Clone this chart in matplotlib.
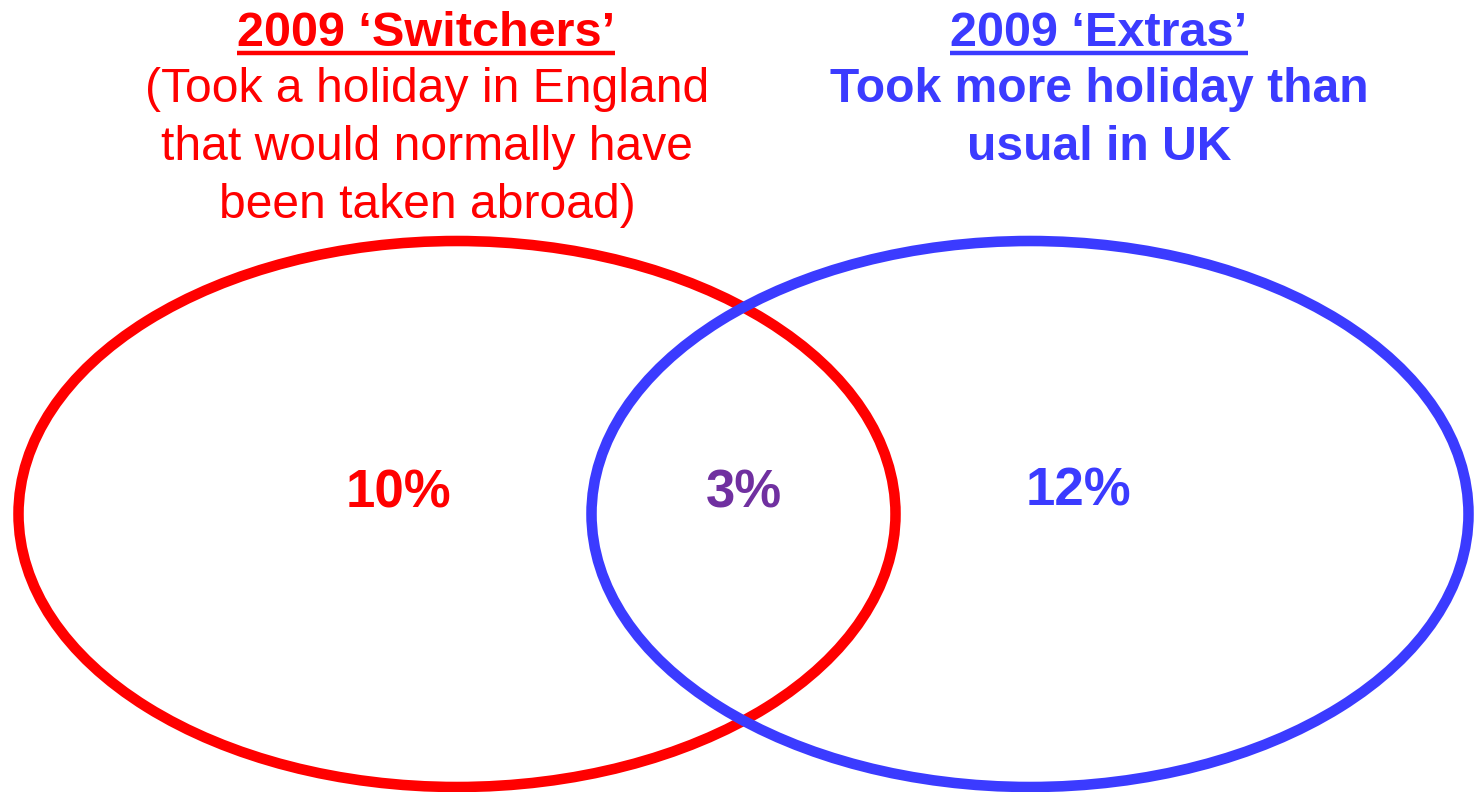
import matplotlib
matplotlib.use("Agg")
import matplotlib.pyplot as plt
from matplotlib.patches import Ellipse

# ---- data ----
set_titles = ["2009 \u2018Switchers\u2019", "2009 \u2018Extras\u2019"]
set_descriptions = [
    "(Took a holiday in England\nthat would normally have\nbeen taken abroad)",
    "Took more holiday than\nusual in UK",
]
only_values = ["10%", "12%"]
overlap_value = "3%"

# ---- style ----
RED = "#FF0000"
BLUE = "#3B3BFF"
PURPLE = "#7030A0"
FONT = "Liberation Sans"

W, H = 1474, 792
fig = plt.figure(figsize=(W / 100, H / 100), dpi=100)
ax = fig.add_axes([0, 0, 1, 1])
ax.set_xlim(0, W)
ax.set_ylim(H, 0)
ax.axis("off")

# ellipses
ell_centers = [(457, 514), (1030, 514)]
ell_w, ell_h = 877, 546
colors = [RED, BLUE]
for (cx, cy), c in zip(ell_centers, colors):
    ax.add_patch(Ellipse((cx, cy), ell_w, ell_h, fill=False, edgecolor=c, lw=7.6))

# value labels
ax.text(398, 494, only_values[0], color=RED, fontsize=38, fontweight="bold",
        ha="center", va="center", family=FONT)
ax.text(744, 494, overlap_value, color=PURPLE, fontsize=38, fontweight="bold",
        ha="center", va="center", family=FONT)
ax.text(1078, 491, only_values[1], color=BLUE, fontsize=38, fontweight="bold",
        ha="center", va="center", family=FONT)

# titles with underline
title_x = [426, 1099]
title_texts = []
for tx, t, c in zip(title_x, set_titles, colors):
    tt = ax.text(tx, 46, t, color=c, fontsize=35, fontweight="bold",
                 ha="center", va="baseline", family=FONT)
    title_texts.append((tt, c))

# descriptions, one line at a time
desc_x = [427, 1099]
desc_weight = ["normal", "bold"]
line_step = 58
for dx, d, c, wgt in zip(desc_x, set_descriptions, colors, desc_weight):
    for i, line in enumerate(d.split("\n")):
        ax.text(dx, 102 + i * line_step, line, color=c, fontsize=34.6,
                fontweight=wgt, ha="center", va="baseline", family=FONT)

fig.canvas.draw()
renderer = fig.canvas.get_renderer()
inv = ax.transData.inverted()
for tt, c in title_texts:
    bb = tt.get_window_extent(renderer)
    (x0, _), (x1, _) = inv.transform([(bb.x0, bb.y0), (bb.x1, bb.y0)])
    ax.plot([x0, x1], [53, 53], color=c, lw=3.2, solid_capstyle="butt")

fig.savefig("out.png", dpi=100)
